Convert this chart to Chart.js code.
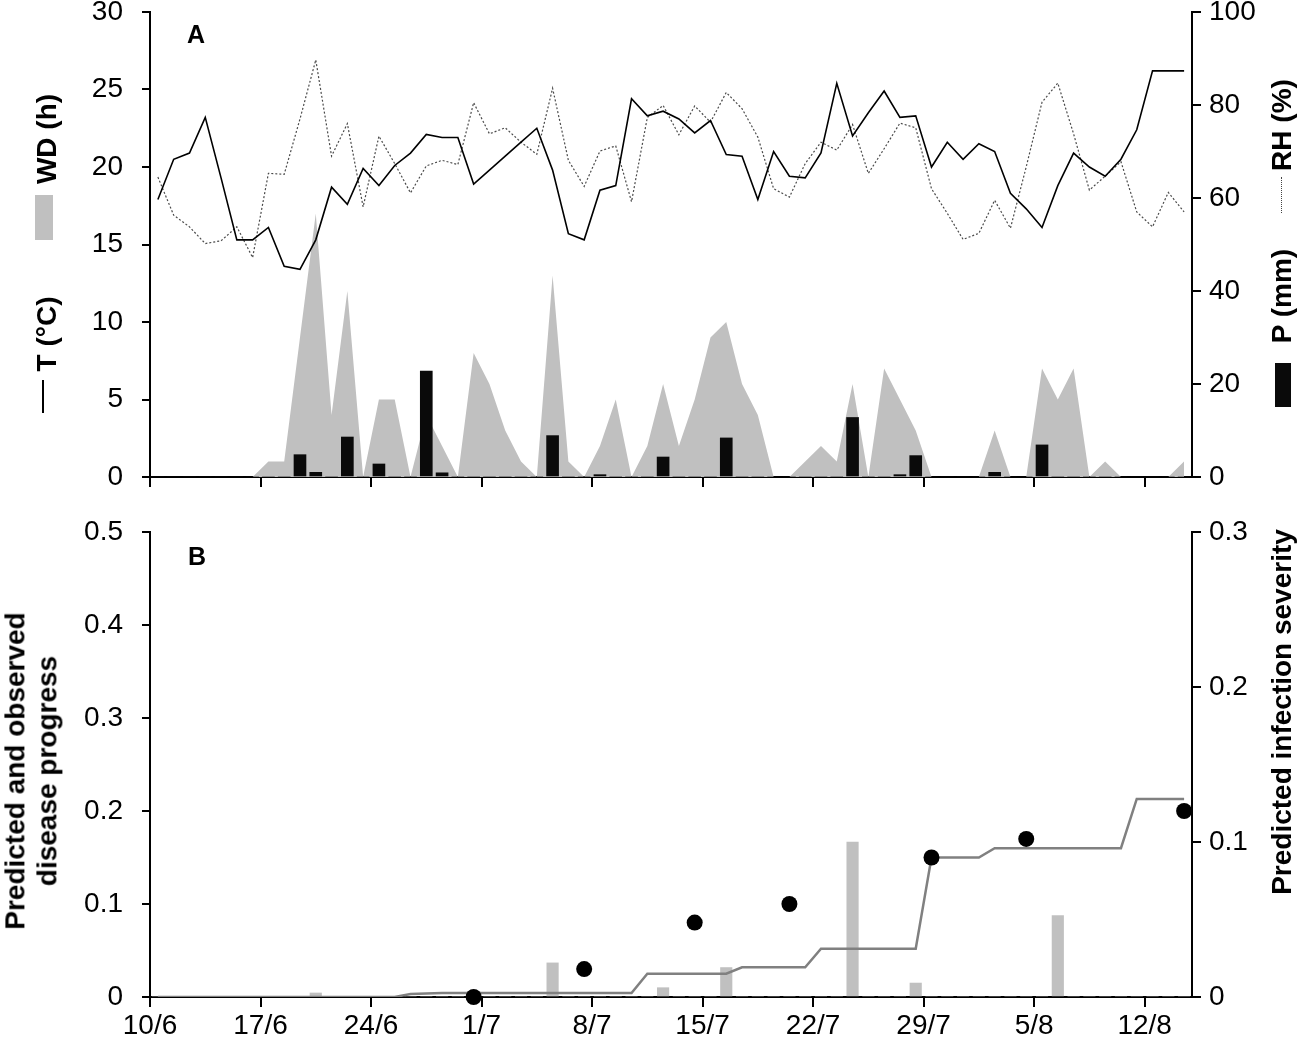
<!DOCTYPE html>
<html>
<head>
<meta charset="utf-8">
<script src="https://cdn.jsdelivr.net/npm/chart.js@4.4.0/dist/chart.umd.min.js"></script>
<style>
html,body{margin:0;padding:0;background:#fff;}
#wrap{position:relative;width:1299px;height:1040px;overflow:hidden;font-family:'Liberation Sans',Arial,sans-serif;background:#fff;}
#cA{position:absolute;left:0;top:0;}
#cB{position:absolute;left:0;top:500px;}
.t{position:absolute;font-weight:bold;font-size:28px;color:#000;white-space:nowrap;line-height:28px;}
.rot{transform:translate(-50%,-50%) rotate(-90deg);}
.sym{position:absolute;}
</style>
</head>
<body>
<div id="wrap">
  <canvas id="cA" width="1299" height="500"></canvas>
  <canvas id="cB" width="1299" height="540"></canvas>

  <div class="t" style="left:187px;top:22px;font-size:25px;line-height:25px;">A</div>
  <div class="t" style="left:188px;top:544px;font-size:25px;line-height:25px;">B</div>

  <div class="t rot" style="left:47px;top:139px;">WD (h)</div>
  <div class="sym" style="left:35px;top:195px;width:18px;height:45px;background:#c0c0c0;"></div>
  <div class="t rot" style="left:47px;top:334px;">T (°C)</div>
  <div class="sym" style="left:42px;top:380px;width:2px;height:33px;background:#000;"></div>

  <div class="t rot" style="left:1282px;top:125px;">RH (%)</div>
  <div class="sym" style="left:1281px;top:177px;width:0;height:36px;border-left:1px dotted #444;"></div>
  <div class="t rot" style="left:1282px;top:296px;">P (mm)</div>
  <div class="sym" style="left:1275px;top:363px;width:16px;height:44px;background:#0a0a0a;"></div>

  <div class="t rot" style="left:31px;top:771px;text-align:center;line-height:31.6px;">Predicted and observed<br>disease progress</div>
  <div class="t rot" style="left:1282px;top:712px;">Predicted infection severity</div>
</div>

<script>
// ---------- categories (one per day, 10/6 .. 14/8) ----------
const dates = [
  '10/6','11/6','12/6','13/6','14/6','15/6','16/6','17/6','18/6','19/6','20/6',
  '21/6','22/6','23/6','24/6','25/6','26/6','27/6','28/6','29/6','30/6',
  '1/7','2/7','3/7','4/7','5/7','6/7','7/7','8/7','9/7','10/7','11/7','12/7','13/7','14/7','15/7',
  '16/7','17/7','18/7','19/7','20/7','21/7','22/7','23/7','24/7','25/7','26/7','27/7','28/7','29/7','30/7','31/7',
  '1/8','2/8','3/8','4/8','5/8','6/8','7/8','8/8','9/8','10/8','11/8','12/8','13/8','14/8'
];
const tickDays   = [0, 7, 14, 21, 28, 35, 42, 49, 56, 63];
const tickLabels = ['10/6','17/6','24/6','1/7','8/7','15/7','22/7','29/7','5/8','12/8'];
const ticksA_left  = [0, 5, 10, 15, 20, 25, 30];
const ticksA_right = [0, 20, 40, 60, 80, 100];
const ticksB_left  = [0, 0.1, 0.2, 0.3, 0.4, 0.5];
const ticksB_right = [0, 0.1, 0.2, 0.3];

// ---------- panel A series ----------
const temperature = [
  17.9, 20.5, 20.9, 23.2, 19.3, 15.3, 15.3, 16.1, 13.6, 13.4,
  15.3, 18.7, 17.6, 19.9, 18.8, 20.1, 20.9, 22.1, 21.9, 21.9,
  18.9, 19.8, 20.7, 21.6, 22.5, 19.8, 15.7, 15.3, 18.5, 18.8,
  24.4, 23.3, 23.6, 23.1, 22.2, 23.0, 20.8, 20.7, 17.9, 21.0,
  19.4, 19.3, 20.9, 25.4, 22.0, 23.5, 24.9, 23.2, 23.3, 20.0,
  21.6, 20.5, 21.5, 21.0, 18.3, 17.3, 16.1, 18.8, 20.9, 20.0,
  19.4, 20.5, 22.4, 26.2, 26.2, 26.2
];
const relHumidity = [
  64.5, 56.3, 53.8, 50.2, 50.8, 53.8, 47.2, 65.3, 65.1, 77.0,
  89.7, 69.0, 76.0, 58.1, 73.3, 67.4, 61.1, 66.9, 68.1, 67.2,
  80.5, 73.8, 75.1, 72.0, 69.4, 83.6, 68.1, 62.5, 70.1, 71.2,
  59.2, 77.3, 79.9, 73.6, 79.8, 76.3, 82.7, 79.2, 73.1, 62.0,
  60.2, 67.4, 72.0, 70.3, 75.8, 65.3, 70.6, 76.1, 75.1, 62.0,
  56.7, 51.1, 52.4, 59.5, 53.5, 66.7, 80.6, 84.7, 73.8, 61.7,
  64.7, 67.8, 57.0, 53.8, 61.2, 57.0
];
const wetDuration = [
  0, 0, 0, 0, 0, 0, 0, 1, 1, 9,
  17, 4, 12, 0, 5, 5, 0, 4, 2, 0,
  8, 6, 3, 1, 0, 13, 1, 0, 2, 5,
  0, 2, 6, 2, 5, 9, 10, 6, 4, 0,
  0, 1, 2, 1, 6, 0, 7, 5, 3, 0,
  0, 0, 0, 3, 0, 0, 7, 5, 7, 0,
  1, 0, 0, 0, 0, 1
];
const precipitation = [
  0, 0, 0, 0, 0, 0, 0, 0, 0, 4.8,
  1.0, 0, 8.6, 0, 2.8, 0, 0, 22.8, 0.9, 0,
  0, 0, 0, 0, 0, 8.9, 0, 0, 0.5, 0,
  0, 0, 4.3, 0, 0, 0, 8.4, 0, 0, 0,
  0, 0, 0, 0, 12.8, 0, 0, 0.5, 4.6, 0,
  0, 0, 0, 1.0, 0, 0, 6.9, 0, 0, 0,
  0, 0, 0, 0, 0, 0
];

// ---------- panel B series ----------
const predictedProgress = [
  0, 0, 0, 0, 0, 0, 0, 0, 0, 0,
  0, 0, 0, 0, 0, 0, 0.0032, 0.0038, 0.0043, 0.0043,
  0.0043, 0.0043, 0.0043, 0.0043, 0.0043, 0.0043, 0.0043, 0.0043, 0.0043, 0.0043,
  0.0043, 0.025, 0.025, 0.025, 0.025, 0.025, 0.025, 0.032, 0.032, 0.032,
  0.032, 0.032, 0.052, 0.052, 0.052, 0.052, 0.052, 0.052, 0.052, 0.150,
  0.150, 0.150, 0.150, 0.160, 0.160, 0.160, 0.160, 0.160, 0.160, 0.160,
  0.160, 0.160, 0.213, 0.213, 0.213, 0.213
];
const infectionSeverity = [
  0, 0, 0, 0, 0, 0, 0, 0, 0, 0,
  0.0026, 0, 0, 0, 0, 0, 0, 0, 0, 0,
  0, 0, 0, 0, 0, 0.022, 0, 0, 0, 0,
  0, 0, 0.006, 0, 0, 0, 0.019, 0, 0, 0,
  0, 0, 0, 0, 0.100, 0, 0, 0, 0.009, 0,
  0, 0, 0, 0, 0, 0, 0, 0.0525, 0, 0,
  0, 0, 0, 0, 0, 0
];
const observedDays  = [20, 27, 34, 40, 49, 55, 65];
const observedValue = [0, 0.03, 0.08, 0.10, 0.15, 0.17, 0.20];

// ---------- helpers ----------
Chart.defaults.font.family = "'Liberation Sans', Arial, sans-serif";
Chart.defaults.color = '#000';

const pts = arr => arr.map((v, i) => ({ x: i + 0.5, y: v }));

function xScale(showLabels, h) {
  return {
    type: 'linear', position: 'bottom', min: 0, max: dates.length, offset: false,
    afterBuildTicks: s => { s.ticks = tickDays.map(v => ({ value: v })); },
    ticks: {
      display: showLabels, autoSkip: false, maxRotation: 0, color: '#000',
      font: { size: 28 }, padding: 2,
      callback: v => { const k = tickDays.indexOf(v); return k >= 0 ? tickLabels[k] : ''; }
    },
    grid: { display: true, offset: false, drawOnChartArea: false, drawTicks: true, tickLength: 10, color: '#000', lineWidth: 2 },
    border: { display: true, color: '#000', width: 2 },
    afterFit: s => { s.height = h; s.paddingLeft = 0; s.paddingRight = 0; }
  };
}
function yScale(pos, tickVals, pad, tl, w) {
  return {
    type: 'linear', position: pos, min: tickVals[0], max: tickVals[tickVals.length - 1],
    afterBuildTicks: s => { s.ticks = tickVals.map(v => ({ value: v })); },
    ticks: { color: '#000', font: { size: 28 }, padding: pad, callback: v => String(v) },
    grid: { display: true, drawOnChartArea: false, drawTicks: true, tickLength: tl, color: '#000', lineWidth: 2 },
    border: { display: true, color: '#000', width: 2 },
    afterFit: s => { s.width = w; s.paddingTop = 0; s.paddingBottom = 0; }
  };
}
const baseOpts = (padTop) => ({
  responsive: false, animation: false,
  layout: { padding: { top: padTop, bottom: 0, left: 0, right: 0 } },
  plugins: { legend: { display: false }, tooltip: { enabled: false } },
  elements: { line: { tension: 0 } }
});

// ---------- panel A ----------
new Chart(document.getElementById('cA'), {
  type: 'line',
  data: {
    datasets: [
      { type: 'line', label: 'WD (h)', data: pts(wetDuration), yAxisID: 'yL', fill: 'origin',
        backgroundColor: '#c0c0c0', borderColor: 'rgba(0,0,0,0)', borderWidth: 0, pointRadius: 0, order: 4 },
      { type: 'bar', label: 'P (mm)', data: pts(precipitation), yAxisID: 'yR',
        backgroundColor: '#0a0a0a', barThickness: 12, borderWidth: 0, order: 3 },
      { type: 'line', label: 'RH (%)', data: pts(relHumidity), yAxisID: 'yR', fill: false,
        borderColor: '#4a4a4a', borderWidth: 1.2, borderDash: [2, 2], pointRadius: 0, order: 2 },
      { type: 'line', label: 'T (°C)', data: pts(temperature), yAxisID: 'yL', fill: false,
        borderColor: '#000', borderWidth: 1.6, pointRadius: 0, order: 1 }
    ]
  },
  options: Object.assign(baseOpts(12), {
    scales: {
      x: xScale(false, 23),
      yL: yScale('left', ticksA_left, 19, 8, 150),
      yR: yScale('right', ticksA_right, 8, 9, 107)
    }
  })
});

// ---------- panel B ----------
new Chart(document.getElementById('cB'), {
  type: 'line',
  data: {
    datasets: [
      { type: 'bar', label: 'Predicted infection severity', data: pts(infectionSeverity), yAxisID: 'yR',
        backgroundColor: '#c0c0c0', barThickness: 11.5, borderWidth: 0, order: 3 },
      { type: 'line', label: 'Predicted disease progress', data: pts(predictedProgress), yAxisID: 'yL', fill: false,
        borderColor: '#808080', borderWidth: 2.5, pointRadius: 0, order: 2 },
      { type: 'line', label: 'Observed disease progress',
        data: observedDays.map((d, k) => ({ x: d + 0.5, y: observedValue[k] })), yAxisID: 'yL',
        showLine: false, pointRadius: 8, pointBackgroundColor: '#000', pointBorderWidth: 0,
        borderColor: '#000', clip: false, order: 1 }
    ]
  },
  options: Object.assign(baseOpts(32), {
    scales: {
      x: xScale(true, 43),
      yL: yScale('left', ticksB_left, 19, 8, 150),
      yR: yScale('right', ticksB_right, 8, 9, 107)
    }
  })
});
</script>
</body>
</html>
